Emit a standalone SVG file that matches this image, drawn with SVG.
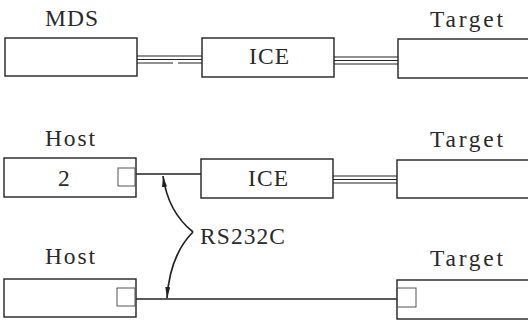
<svg xmlns="http://www.w3.org/2000/svg" width="528" height="322" viewBox="0 0 528 322">
<defs>
<style>
.box{fill:#fff;stroke:#222;stroke-width:1.4}
.port{fill:none;stroke:#555;stroke-width:1}
.ln{fill:none;stroke:#222;stroke-width:1.3}
.cv{fill:none;stroke:#222;stroke-width:1.7}
.tl{fill:none;stroke:#222;stroke-width:1}
.lbl{font-family:"Liberation Serif","Times New Roman",serif;font-size:23.5px;fill:#2a2a2a}
</style>
<marker id="ah" viewBox="0 0 11 5" refX="11" refY="2.5" markerWidth="11" markerHeight="5" markerUnits="userSpaceOnUse" orient="auto">
<path d="M0,0 L11,2.5 L0,5 Z" fill="#222"/>
</marker>
</defs>
<rect width="528" height="322" fill="#fff"/>
<g id="connectors">
<path class="tl" d="M137,56 H202 M137,59.5 H202 M137,63 H173 M178,63 H202"/>
<path class="tl" d="M334,57 H398 M334,60.5 H398 M334,64 H398"/>
<path class="ln" d="M136,174 H201"/>
<path class="tl" d="M333,176 H397 M333,179.5 H397 M333,183 H397"/>
<path class="ln" d="M136,299 H397"/>
<path class="cv" d="M193,232 Q168,212 163,176" marker-end="url(#ah)"/>
<path class="cv" d="M193,232 Q170,255 167,298" marker-end="url(#ah)"/>
</g>
<g id="mds">
<text class="lbl" x="45" y="25.5" textLength="53" lengthAdjust="spacing">MDS</text>
<rect class="box" x="5" y="38" width="132" height="38"/>
</g>
<g id="ice1">
<rect class="box" x="202" y="38" width="132" height="39"/>
<text class="lbl" x="249" y="64" textLength="40" lengthAdjust="spacing">ICE</text>
</g>
<g id="target1">
<text class="lbl" x="430" y="27" textLength="73" lengthAdjust="spacing">Target</text>
<rect class="box" x="398" y="39" width="140" height="39"/>
</g>
<g id="host2">
<text class="lbl" x="45" y="146" textLength="50" lengthAdjust="spacing">Host</text>
<rect class="box" x="4" y="158" width="132" height="39"/>
<rect class="port" x="118" y="168" width="17" height="18"/>
<text class="lbl" x="58" y="186">2</text>
</g>
<g id="ice2">
<rect class="box" x="201" y="159" width="132" height="39"/>
<text class="lbl" x="248" y="186" textLength="40" lengthAdjust="spacing">ICE</text>
</g>
<g id="target2">
<text class="lbl" x="430" y="147" textLength="73" lengthAdjust="spacing">Target</text>
<rect class="box" x="397" y="160" width="140" height="38"/>
</g>
<g id="host3">
<text class="lbl" x="45" y="264" textLength="50" lengthAdjust="spacing">Host</text>
<rect class="box" x="4" y="279" width="132" height="38"/>
<rect class="port" x="117" y="288" width="18" height="18"/>
</g>
<g id="target3">
<text class="lbl" x="430" y="266" textLength="73" lengthAdjust="spacing">Target</text>
<rect class="box" x="397" y="280" width="140" height="39"/>
<rect class="port" x="397" y="288" width="19" height="19"/>
</g>
<g id="rs232c">
<text class="lbl" x="200" y="244" textLength="85" lengthAdjust="spacing">RS232C</text>
</g>
</svg>
